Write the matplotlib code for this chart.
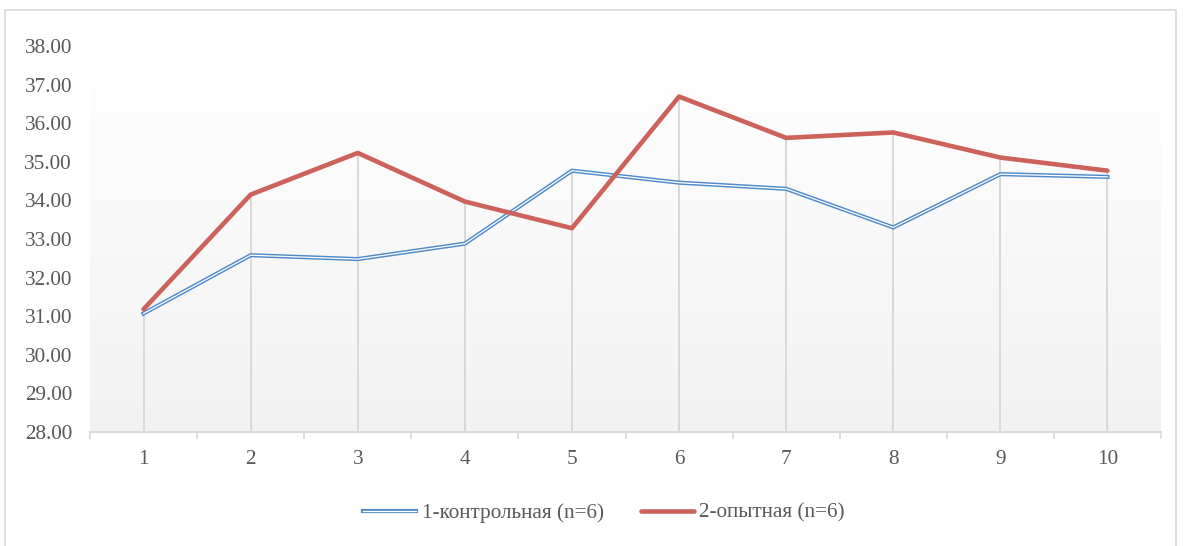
import numpy as np
import matplotlib.pyplot as plt
from matplotlib.patches import Rectangle
from matplotlib.lines import Line2D

plt.rcParams['font.family'] = ['Liberation Serif', 'DejaVu Serif']

# Data
categories = [1, 2, 3, 4, 5, 6, 7, 8, 9, 10]
control = [31.07, 32.58, 32.48, 32.88, 34.77, 34.46, 34.30, 33.30, 34.68, 34.61]
experimental = [31.18, 34.15, 35.23, 33.97, 33.28, 36.69, 35.62, 35.76, 35.11, 34.77]
y_ticks = [28, 29, 30, 31, 32, 33, 34, 35, 36, 37, 38]

label_control = "1-контрольная (n=6)"
label_exp = "2-опытная (n=6)"

TEXT = '#595959'
BLUE = '#4f8bc9'
RED = '#cc625a'
GRID = '#d9d9d9'
FS = 15.3

W, H = 1183, 546
fig = plt.figure(figsize=(W / 100, H / 100), dpi=100)

# chart frame
fig.patches.append(Rectangle((5 / W, -0.05), (1176 - 5) / W, 1.05 - 10 / H,
                             transform=fig.transFigure, fill=False,
                             edgecolor='#d9d9d9', linewidth=1.2))

ax = fig.add_axes([90 / W, 1 - 432 / H, (1161 - 90) / W, (432 - 46) / H])
x = np.arange(len(categories))
ax.set_xlim(-0.5, len(categories) - 0.5)
ax.set_ylim(28, 38)

# vertical gradient in plot area
grad = np.linspace(1.0, 0.0, 256).reshape(-1, 1)
top_c = np.array([1.0, 1.0, 1.0])
bot_c = np.array([0.949, 0.949, 0.949])
img = top_c * grad[..., None] + bot_c * (1 - grad[..., None])
ax.imshow(img, extent=[-0.5, len(categories) - 0.5, 28, 37.7], aspect='auto',
          zorder=0, interpolation='bicubic')

# drop lines
tops = np.maximum(control, experimental)
ax.vlines(x, 28, tops, color=GRID, linewidth=1.4, zorder=1)

# control: double line (thick blue with white core)
ax.plot(x, control, color=BLUE, linewidth=3.0, zorder=3, solid_joinstyle='miter')
ax.plot(x, control, color='white', linewidth=0.9, zorder=4, solid_joinstyle='miter')
# experimental
ax.plot(x, experimental, color=RED, linewidth=3.3, zorder=5, solid_joinstyle='round',
        solid_capstyle='round')

for s in ['left', 'right', 'top']:
    ax.spines[s].set_visible(False)
ax.spines['bottom'].set_color(GRID)
ax.spines['bottom'].set_linewidth(1.4)

ax.set_yticks(y_ticks)
ax.set_yticklabels([f"{v:.2f}" for v in y_ticks])
ax.tick_params(axis='y', length=0, pad=13, labelsize=FS, labelcolor=TEXT)

ax.set_xticks(x)
ax.set_xticklabels([str(c) for c in categories])
ax.set_xticks(np.arange(-0.5, len(categories)), minor=True)
ax.tick_params(axis='x', which='major', length=0, pad=13, labelsize=FS, labelcolor=TEXT)
ax.tick_params(axis='x', which='minor', length=5, width=1.2, color=GRID)

h_ctrl = (Line2D([], [], color=BLUE, linewidth=3.0), Line2D([], [], color='white', linewidth=0.9))
h_exp = Line2D([], [], color=RED, linewidth=3.3, solid_capstyle='round')
fig.legend([h_ctrl, h_exp], [label_control, label_exp], loc='center',
           bbox_to_anchor=(604 / W, 1 - 513 / H), ncol=2, frameon=False,
           fontsize=FS, labelcolor=TEXT, handlelength=2.5, handletextpad=0.25,
           columnspacing=1.75)

fig.savefig('out.png', dpi=100)
